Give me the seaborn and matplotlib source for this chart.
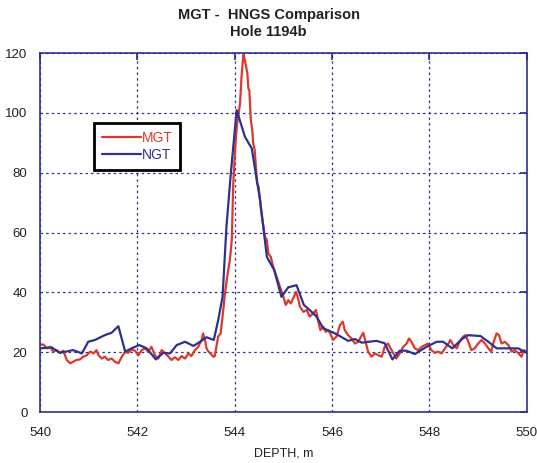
import matplotlib
matplotlib.use("Agg")
import matplotlib.pyplot as plt
import seaborn as sns
import pandas as pd

# MGT log (red)
mgt_depth = [
    540.00, 540.07, 540.14, 540.21, 540.27, 540.34, 540.41, 540.48, 540.55, 540.62,
    540.68, 540.75, 540.82, 540.89, 540.96, 541.03, 541.10, 541.16, 541.20, 541.27,
    541.33, 541.40, 541.47, 541.54, 541.61, 541.68, 541.75, 541.81, 541.88, 541.95,
    542.02, 542.09, 542.16, 542.22, 542.29, 542.36, 542.43, 542.50, 542.57, 542.64,
    542.70, 542.77, 542.84, 542.91, 542.98, 543.05, 543.11, 543.18, 543.25, 543.32,
    543.35, 543.39, 543.42, 543.46, 543.49, 543.56, 543.59, 543.66, 543.71, 543.75,
    543.80, 543.85, 543.90, 543.94, 543.97, 544.02, 544.05, 544.11, 544.14, 544.18,
    544.22, 544.26, 544.28, 544.30, 544.33, 544.36, 544.38, 544.41, 544.46, 544.49,
    544.55, 544.62, 544.66, 544.69, 544.74, 544.79, 544.86, 544.93, 545.00, 545.05,
    545.10, 545.15, 545.20, 545.26, 545.30, 545.34, 545.41, 545.48, 545.54, 545.61,
    545.67, 545.71, 545.76, 545.82, 545.87, 545.92, 545.96, 546.02, 546.09, 546.16,
    546.22, 546.26, 546.33, 546.40, 546.47, 546.54, 546.61, 546.64, 546.67, 546.74,
    546.81, 546.88, 546.95, 547.02, 547.08, 547.15, 547.20, 547.26, 547.32, 547.39,
    547.46, 547.53, 547.58, 547.63, 547.70, 547.77, 547.84, 547.91, 547.97, 548.04,
    548.11, 548.18, 548.25, 548.32, 548.39, 548.43, 548.49, 548.56, 548.62, 548.69,
    548.74, 548.80, 548.86, 548.93, 549.00, 549.07, 549.14, 549.21, 549.27, 549.32,
    549.38, 549.43, 549.48, 549.55, 549.62, 549.69, 549.75, 549.82, 549.89, 549.94,
    550.00,
]
mgt_value = [
    22.4, 22.6, 21.3, 21.8, 20.2, 20.7, 19.8, 20.5, 17.4, 16.3,
    16.8, 17.4, 17.6, 18.5, 19.0, 20.2, 19.6, 20.7, 19.0, 17.9,
    18.5, 17.4, 17.9, 16.8, 16.3, 18.5, 20.2, 19.8, 20.9, 20.5,
    19.0, 20.7, 21.3, 20.2, 21.8, 19.0, 17.9, 20.7, 19.6, 18.5,
    17.4, 18.3, 17.4, 18.7, 17.9, 19.6, 18.7, 20.7, 21.8, 24.1,
    26.3, 24.1, 21.3, 20.2, 19.8, 18.5, 18.7, 25.2, 26.3, 31.9,
    39.7, 45.8, 50.8, 57.5, 76.4, 90.9, 96.5, 103.2, 112.1, 119.9,
    116.5, 113.2, 108.2, 107.6, 97.6, 94.3, 89.8, 87.6, 76.4, 75.3,
    66.4, 58.6, 57.5, 53.0, 51.9, 48.6, 45.2, 41.9, 38.5, 35.8,
    37.4, 36.3, 38.0, 40.2, 38.0, 35.2, 33.5, 34.1, 31.9, 33.0,
    34.1, 30.7, 27.4, 28.5, 26.8, 27.4, 26.3, 24.1, 25.2, 29.0,
    30.2, 27.4, 25.7, 24.6, 22.9, 23.5, 25.7, 26.5, 24.6, 20.2,
    18.5, 19.6, 19.0, 18.5, 21.8, 22.9, 21.3, 19.6, 17.9, 19.6,
    21.8, 22.9, 24.6, 23.5, 21.3, 20.7, 21.8, 22.4, 22.9, 20.7,
    19.8, 20.2, 19.6, 21.3, 22.9, 24.1, 22.4, 21.3, 23.5, 25.2,
    25.7, 23.5, 20.7, 21.3, 22.9, 24.1, 22.9, 21.3, 20.2, 23.5,
    26.3, 25.7, 22.9, 23.5, 22.4, 20.2, 20.7, 19.8, 18.5, 20.7,
    20.2,
]

# NGT log (blue)
ngt_depth = [
    540.00, 540.24, 540.41, 540.68, 540.86, 540.99, 541.13, 541.33, 541.47, 541.61,
    541.75, 541.88, 542.04, 542.19, 542.38, 542.53, 542.67, 542.81, 542.98, 543.15,
    543.29, 543.42, 543.57, 543.66, 543.75, 543.83, 543.92, 544.04, 544.21, 544.35,
    544.52, 544.66, 544.81, 544.96, 545.10, 545.27, 545.42, 545.54, 545.68, 545.82,
    546.06, 546.33, 546.47, 546.61, 546.91, 547.08, 547.24, 547.39, 547.53, 547.70,
    547.94, 548.15, 548.28, 548.47, 548.66, 548.79, 549.05, 549.21, 549.38, 549.82,
    550.00,
]
ngt_value = [
    21.3, 21.6, 19.8, 20.7, 19.6, 23.5, 24.1, 25.7, 26.5, 28.7,
    20.2, 21.3, 22.4, 21.3, 17.6, 19.8, 19.6, 22.4, 23.5, 22.1,
    23.5, 25.0, 24.1, 30.7, 38.5, 61.9, 79.8, 100.9, 92.0, 88.1,
    70.9, 51.9, 47.5, 38.5, 41.7, 42.4, 35.8, 34.1, 31.9, 28.0,
    26.3, 23.8, 24.4, 23.2, 23.8, 23.0, 17.6, 20.5, 20.5, 19.4,
    21.8, 23.5, 23.5, 21.3, 24.3, 25.7, 25.4, 23.5, 21.3, 21.3,
    19.8,
]

navy = "#2e3192"
red = "#d93a2b"

sns.set_theme(style="white")
plt.rcParams["font.family"] = ["Liberation Sans", "DejaVu Sans"]

mgt_df = pd.DataFrame({"depth": mgt_depth, "value": mgt_value})
ngt_df = pd.DataFrame({"depth": ngt_depth, "value": ngt_value})

fig, ax = plt.subplots(figsize=(5.37, 4.63), dpi=100)
fig.subplots_adjust(left=0.0745, right=0.981, bottom=0.110, top=0.8855)

sns.lineplot(data=mgt_df, x="depth", y="value", sort=False, estimator=None,
             color=red, linewidth=1.6, label="MGT", ax=ax)
sns.lineplot(data=ngt_df, x="depth", y="value", sort=False, estimator=None,
             color=navy, linewidth=1.6, label="NGT", ax=ax)

ax.set_xlim(540, 550)
ax.set_ylim(0, 120)
ax.set_xticks(range(540, 551, 2))
ax.set_yticks(range(0, 121, 20))
ax.grid(True, color=navy, linestyle=(0, (2, 2.5)), linewidth=0.9)
ax.set_axisbelow(True)
for sp in ax.spines.values():
    sp.set_color(navy)
    sp.set_linewidth(1.2)
ax.tick_params(direction="in", top=True, right=True, length=5, color=navy,
               labelsize=9.5, labelcolor="#222222")
ax.tick_params(axis="x", pad=11)
ax.tick_params(axis="y", pad=9)

ax.set_xlabel("DEPTH, m", fontsize=9, color="#222222", labelpad=6)
ax.set_ylabel("")

fig.text(0.5, 0.968, "MGT -  HNGS Comparison", ha="center", va="center",
         fontsize=10.5, fontweight="bold", color="#222222")
fig.text(0.5, 0.931, "Hole 1194b", ha="center", va="center",
         fontsize=10.5, fontweight="bold", color="#222222")

leg = ax.legend(loc="upper left", bbox_to_anchor=(0.111, 0.805), borderaxespad=0,
                fancybox=False, framealpha=1, edgecolor="black", fontsize=10,
                handlelength=2.8, handletextpad=0.1, borderpad=0.55, labelspacing=0.25)
leg.get_frame().set_linewidth(2)
for txt, line in zip(leg.get_texts(), leg.get_lines()):
    txt.set_color(line.get_color())

fig.savefig("out.png", dpi=100)
